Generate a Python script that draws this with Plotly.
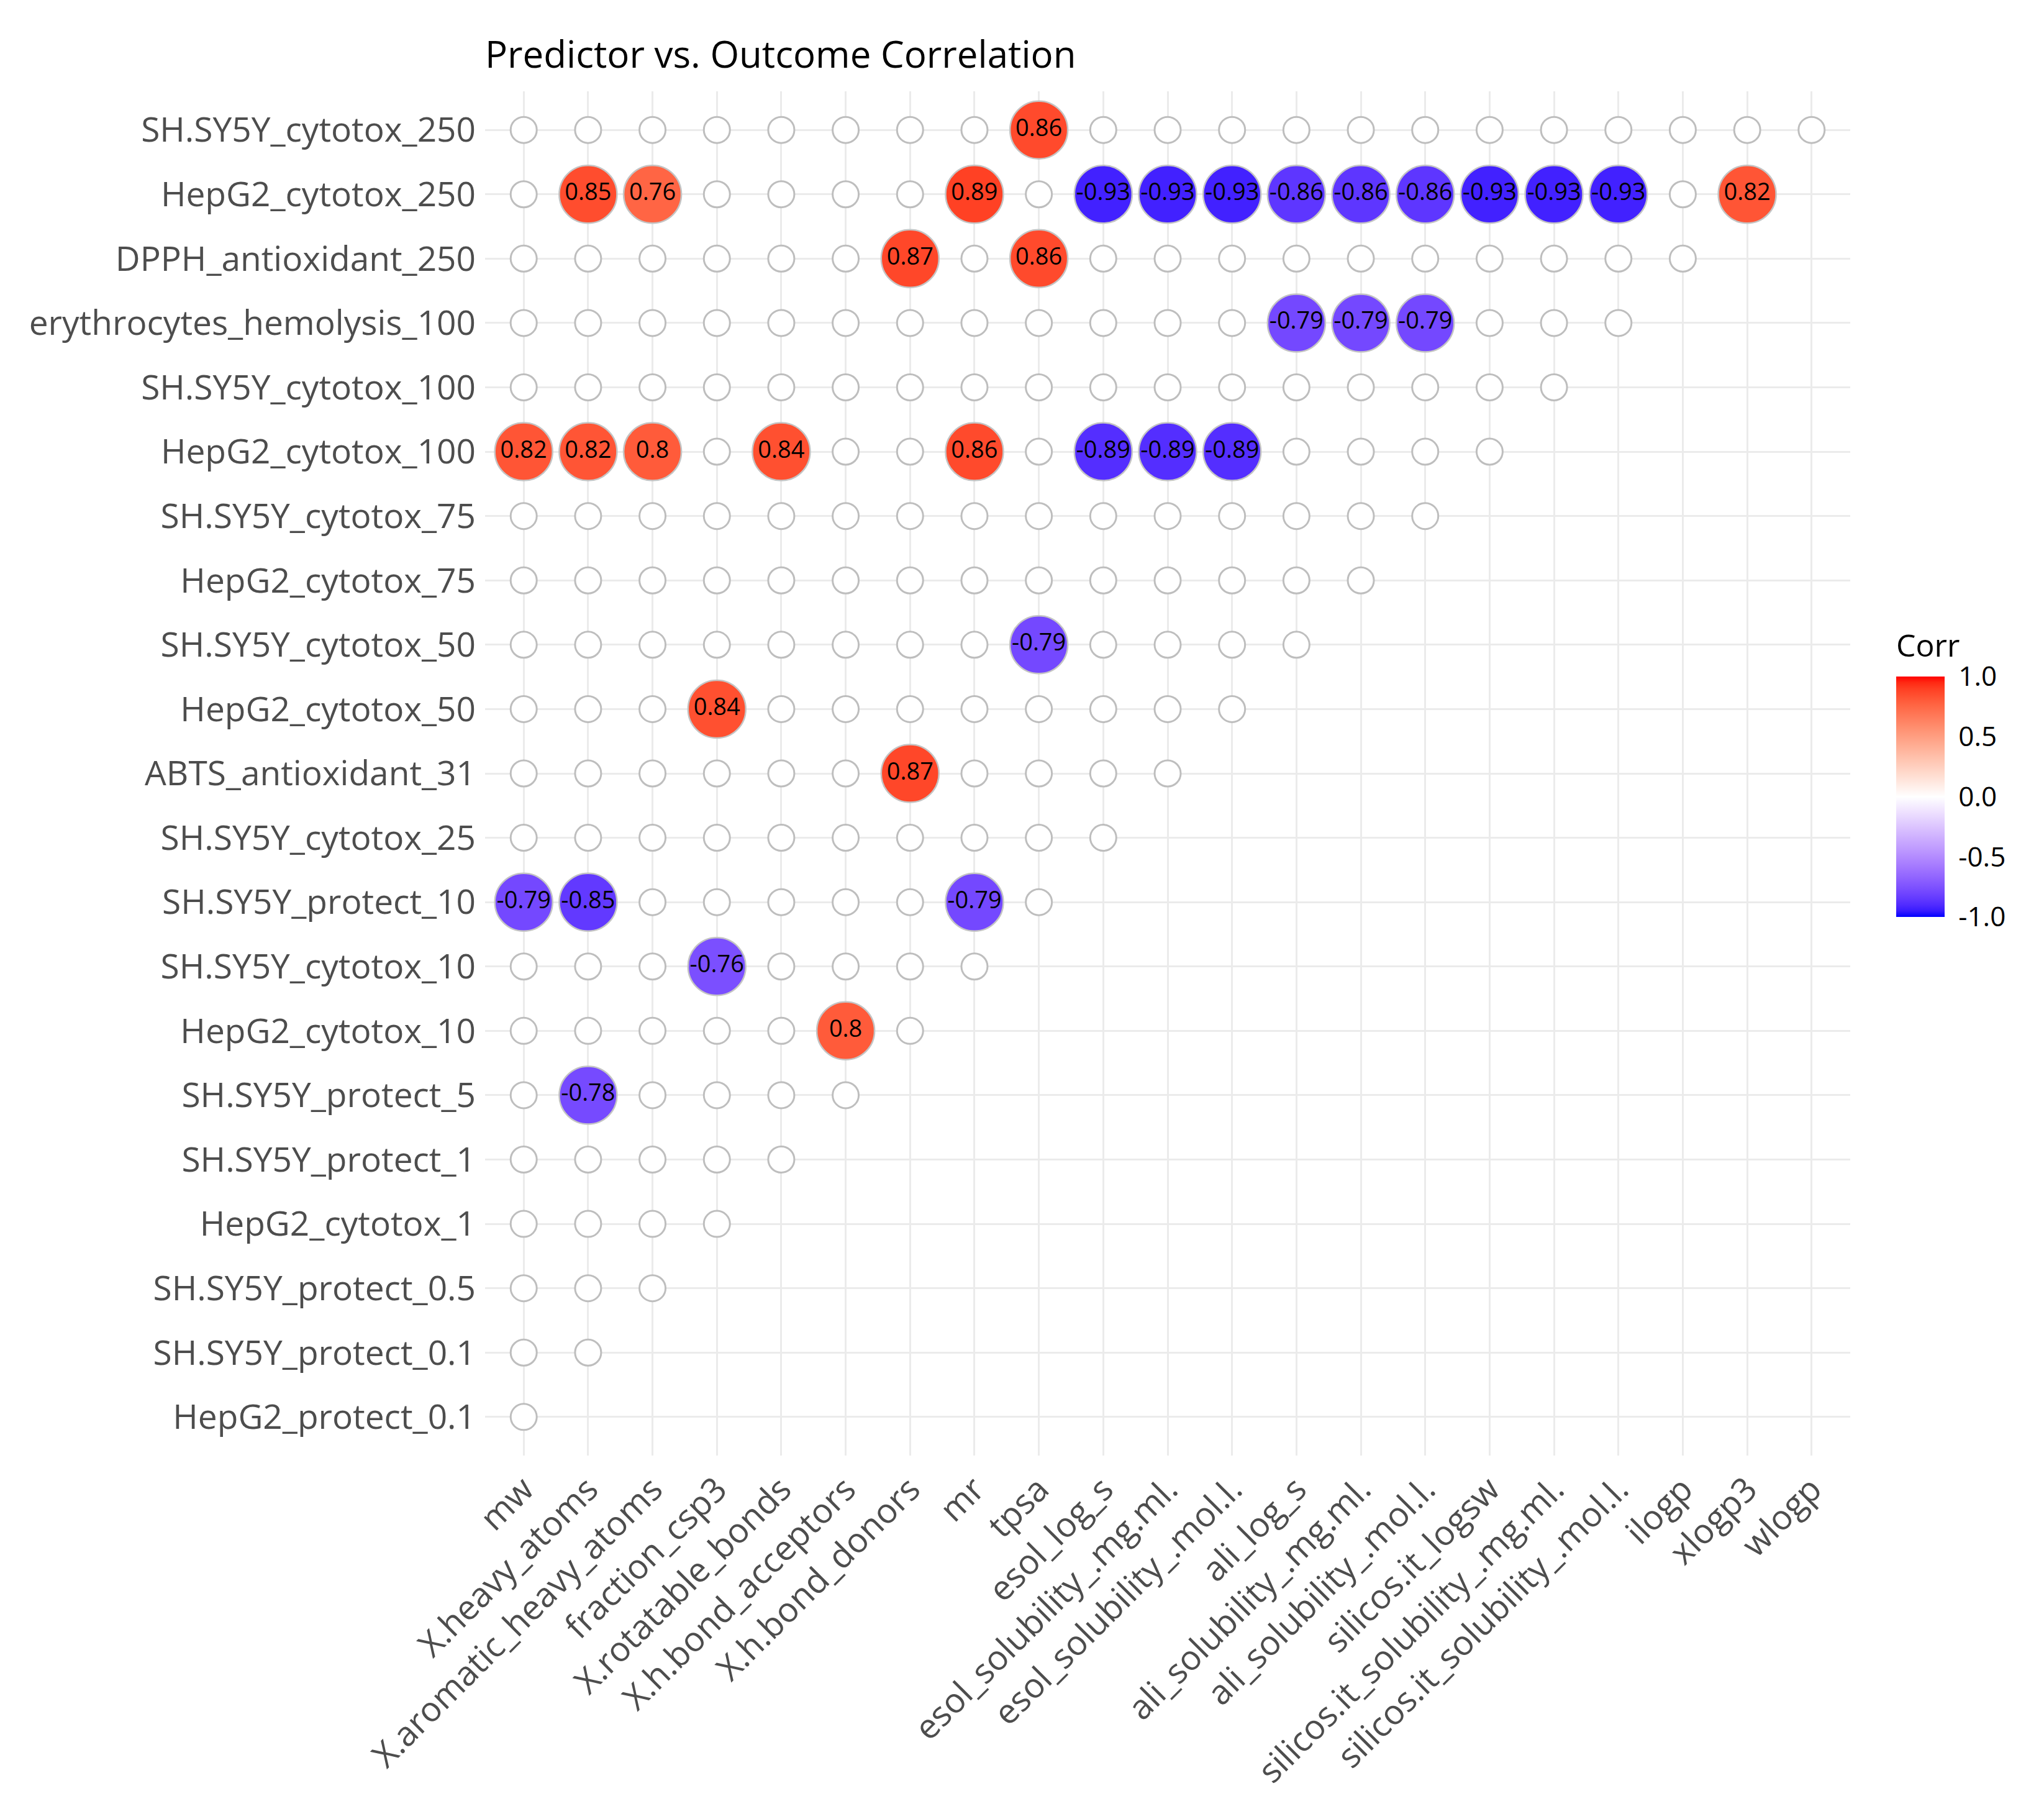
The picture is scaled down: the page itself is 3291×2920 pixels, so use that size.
import numpy as np
import plotly.graph_objects as go

# ── Data ──────────────────────────────────────────────────────────────────────
predictors = [
    "mw", "X.heavy_atoms", "X.aromatic_heavy_atoms", "fraction_csp3",
    "X.rotatable_bonds", "X.h.bond_acceptors", "X.h.bond_donors", "mr", "tpsa",
    "esol_log_s", "esol_solubility_.mg.ml.", "esol_solubility_.mol.l.",
    "ali_log_s", "ali_solubility_.mg.ml.", "ali_solubility_.mol.l.",
    "silicos.it_logsw", "silicos.it_solubility_.mg.ml.",
    "silicos.it_solubility_.mol.l.", "ilogp", "xlogp3", "wlogp",
]

# top to bottom as drawn
outcomes = [
    "SH.SY5Y_cytotox_250", "HepG2_cytotox_250", "DPPH_antioxidant_250",
    "erythrocytes_hemolysis_100", "SH.SY5Y_cytotox_100", "HepG2_cytotox_100",
    "SH.SY5Y_cytotox_75", "HepG2_cytotox_75", "SH.SY5Y_cytotox_50",
    "HepG2_cytotox_50", "ABTS_antioxidant_31", "SH.SY5Y_cytotox_25",
    "SH.SY5Y_protect_10", "SH.SY5Y_cytotox_10", "HepG2_cytotox_10",
    "SH.SY5Y_protect_5", "SH.SY5Y_protect_1", "HepG2_cytotox_1",
    "SH.SY5Y_protect_0.5", "SH.SY5Y_protect_0.1", "HepG2_protect_0.1",
]

# how many predictor cells each outcome row shows (triangle)
cells_per_row = [21, 20, 19, 18, 17, 16, 15, 14, 13, 12, 11,
                 10, 9, 8, 7, 6, 5, 4, 3, 2, 1]

# strong correlations (labelled, filled)
sig_outcome = (
    ["SH.SY5Y_cytotox_250"]
    + ["HepG2_cytotox_250"] * 13
    + ["DPPH_antioxidant_250"] * 2
    + ["erythrocytes_hemolysis_100"] * 3
    + ["HepG2_cytotox_100"] * 8
    + ["SH.SY5Y_cytotox_50", "HepG2_cytotox_50", "ABTS_antioxidant_31"]
    + ["SH.SY5Y_protect_10"] * 3
    + ["SH.SY5Y_cytotox_10", "HepG2_cytotox_10", "SH.SY5Y_protect_5"]
)
sig_predictor = [
    "tpsa",
    "X.heavy_atoms", "X.aromatic_heavy_atoms", "mr", "esol_log_s",
    "esol_solubility_.mg.ml.", "esol_solubility_.mol.l.", "ali_log_s",
    "ali_solubility_.mg.ml.", "ali_solubility_.mol.l.", "silicos.it_logsw",
    "silicos.it_solubility_.mg.ml.", "silicos.it_solubility_.mol.l.", "xlogp3",
    "X.h.bond_donors", "tpsa",
    "ali_log_s", "ali_solubility_.mg.ml.", "ali_solubility_.mol.l.",
    "mw", "X.heavy_atoms", "X.aromatic_heavy_atoms", "X.rotatable_bonds", "mr",
    "esol_log_s", "esol_solubility_.mg.ml.", "esol_solubility_.mol.l.",
    "tpsa", "fraction_csp3", "X.h.bond_donors",
    "mw", "X.heavy_atoms", "mr",
    "fraction_csp3", "X.h.bond_acceptors", "X.heavy_atoms",
]
sig_value = [
    0.86,
    0.85, 0.76, 0.89, -0.93, -0.93, -0.93, -0.86, -0.86, -0.86,
    -0.93, -0.93, -0.93, 0.82,
    0.87, 0.86,
    -0.79, -0.79, -0.79,
    0.82, 0.82, 0.80, 0.84, 0.86, -0.89, -0.89, -0.89,
    -0.79, 0.84, 0.87,
    -0.79, -0.85, -0.79,
    -0.76, 0.80, -0.78,
]

# ── Colour scale: blue / white / red mixed in Lab like ggplot ─────────────────
def to_lab(rgb):
    c = np.array(rgb) / 255.0
    c = np.where(c <= 0.04045, c / 12.92, ((c + 0.055) / 1.055) ** 2.4)
    m = np.array([[0.4124, 0.3576, 0.1805],
                  [0.2126, 0.7152, 0.0722],
                  [0.0193, 0.1192, 0.9505]])
    xyz = m @ c / np.array([0.95047, 1.0, 1.08883])
    f = np.where(xyz > 0.008856, np.cbrt(xyz), 7.787 * xyz + 16 / 116)
    return np.array([116 * f[1] - 16, 500 * (f[0] - f[1]), 200 * (f[1] - f[2])])

def from_lab(lab):
    fy = (lab[0] + 16) / 116
    fx = fy + lab[1] / 500
    fz = fy - lab[2] / 200
    f = np.array([fx, fy, fz])
    xyz = np.where(f ** 3 > 0.008856, f ** 3, (f - 16 / 116) / 7.787)
    xyz = xyz * np.array([0.95047, 1.0, 1.08883])
    mi = np.array([[3.2406, -1.5372, -0.4986],
                   [-0.9689, 1.8758, 0.0415],
                   [0.0557, -0.2040, 1.0570]])
    c = np.clip(mi @ xyz, 0, 1)
    c = np.where(c <= 0.0031308, 12.92 * c, 1.055 * c ** (1 / 2.4) - 0.055)
    r, g, b = np.clip(np.round(c * 255), 0, 255).astype(int)
    return f"rgb({r},{g},{b})"

WHITE, BLUE, RED = to_lab((255, 255, 255)), to_lab((0, 0, 255)), to_lab((255, 0, 0))
colorscale = []
for t in np.linspace(0, 1, 41):
    v = 2 * t - 1
    end = BLUE if v < 0 else RED
    colorscale.append([t, from_lab(WHITE + abs(v) * (end - WHITE))])

# ── Cells ─────────────────────────────────────────────────────────────────────
empty_x, empty_y = [], []
for name, n in zip(outcomes, cells_per_row):
    for p in predictors[:n]:
        empty_x.append(p)
        empty_y.append(name)

FONT = "Open Sans"
GRID = "#EBEBEB"
# plot panel in page pixels (page body adds an 8px offset)
L, T, PW, PH = 773, 139, 2198, 2196

fig = go.Figure()
fig.add_trace(go.Scatter(
    x=empty_x, y=empty_y, mode="markers", hoverinfo="skip", showlegend=False,
    marker=dict(size=42, color="white", line=dict(color="#BEBEBE", width=3)),
))
fig.add_trace(go.Scatter(
    x=sig_predictor, y=sig_outcome, mode="markers+text", showlegend=False,
    text=[f"{v:g}" for v in sig_value], textposition="middle center",
    textfont=dict(family=FONT, size=38, color="black"),
    marker=dict(
        size=93, color=sig_value, cmin=-1, cmax=1, colorscale=colorscale,
        line=dict(color="#C4C4C4", width=2.5),
        colorbar=dict(
            title=dict(text="Corr", side="top",
                       font=dict(family=FONT, size=50, color="black")),
            tickvals=[-1, -0.5, 0, 0.5, 1],
            ticktext=["-1.0", "-0.5", "0.0", "0.5", "1.0"],
            tickfont=dict(family=FONT, size=44, color="black"),
            ticks="outside", tickcolor="rgba(0,0,0,0)", ticklen=14,
            thickness=78, thicknessmode="pixels",
            len=460, lenmode="pixels",
            x=(3053 - 8 - L) / PW, xanchor="left", xpad=0,
            y=(T + PH - (1476 - 8)) / PH, yanchor="bottom", ypad=0,
            outlinewidth=0,
        ),
    ),
))

fig.update_layout(
    width=3291, height=2920,
    margin=dict(l=L, r=3291 - L - PW, t=T, b=2920 - T - PH),
    plot_bgcolor="white", paper_bgcolor="white",
    font=dict(family=FONT, color="#4D4D4D"),
    title=dict(
        text="Predictor vs. Outcome Correlation",
        x=L / 3291, xanchor="left", y=1 - 80 / 2920, yanchor="middle",
        font=dict(family=FONT, size=60, color="black"),
    ),
    xaxis=dict(
        type="category", categoryorder="array", categoryarray=predictors,
        range=[-0.6, len(predictors) - 0.4], tickangle=-45,
        tickfont=dict(family=FONT, size=55, color="#4D4D4D"),
        showgrid=True, gridcolor=GRID, gridwidth=2.5, zeroline=False,
        showline=False, ticks="", ticklabelstandoff=10,
    ),
    yaxis=dict(
        type="category", categoryorder="array", categoryarray=outcomes[::-1],
        range=[-0.6, len(outcomes) - 0.4],
        tickfont=dict(family=FONT, size=55, color="#4D4D4D"),
        showgrid=True, gridcolor=GRID, gridwidth=2.5, zeroline=False,
        showline=False, ticks="", ticklabelstandoff=14,
    ),
)

fig.write_html("out.html")
